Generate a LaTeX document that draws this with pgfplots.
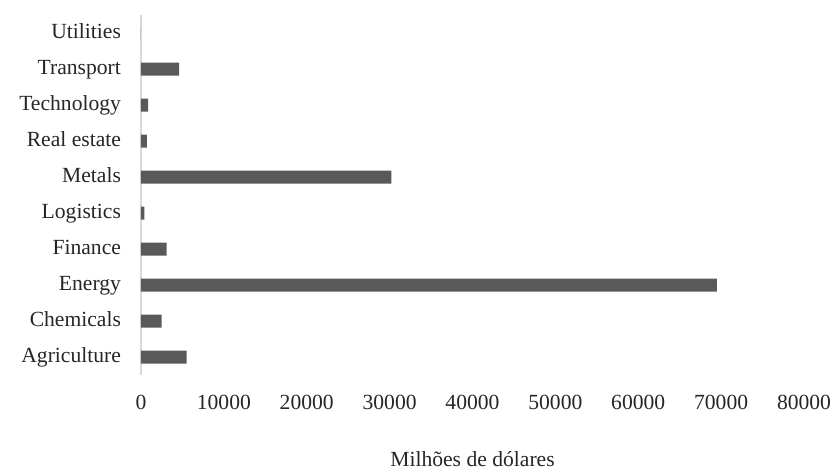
\documentclass[border=0pt]{standalone}
\usepackage{pgfplots}
\pgfplotsset{compat=1.18}
\usepackage{fontspec}
\setmainfont{Liberation Serif}
\definecolor{barc}{HTML}{595959}
\definecolor{axc}{HTML}{D9D9D9}
\definecolor{txt}{HTML}{262626}
\begin{document}
\begin{tikzpicture}
\useasboundingbox (-70.5pt,-48.5pt) rectangle (346pt,187.5pt);
\begin{axis}[
  at={(0,0)}, anchor=south west,
  scale only axis,
  width=331.5pt, height=180pt,
  xbar, bar width=6.5pt,
  xmin=0, xmax=80000,
  ymin=-0.5, ymax=9.5,
  xtick={0,10000,...,80000},
  ytick={0,...,9},
  yticklabels={Agriculture,Chemicals,Energy,Finance,Logistics,Metals,Real estate,Technology,Transport,Utilities},
  /pgf/number format/assume math mode=true,
  /pgf/number format/1000 sep={},
  scaled x ticks=false,
  major tick length=0pt,
  axis x line*=bottom,
  axis y line*=left,
  axis line style={draw=axc, line width=0.8pt, -},
  x axis line style={draw=none},
  tick label style={font=\fontsize{10.8}{13}\selectfont, text=txt},
  xticklabel style={yshift=-6.5pt},
  yticklabel style={xshift=-6.5pt, text height=1.6ex, text depth=0.3ex},
  xlabel={Milhões de dólares},
  xlabel style={font=\fontsize{10.8}{13}\selectfont, text=txt, yshift=-14pt},
  clip=false,
]
\addplot[fill=barc, draw=none] coordinates {
  (5500,0) (2500,1) (69500,2) (3100,3) (400,4) (30200,5) (700,6) (850,7) (4600,8) (0,9)
};
\end{axis}
\end{tikzpicture}
\end{document}
